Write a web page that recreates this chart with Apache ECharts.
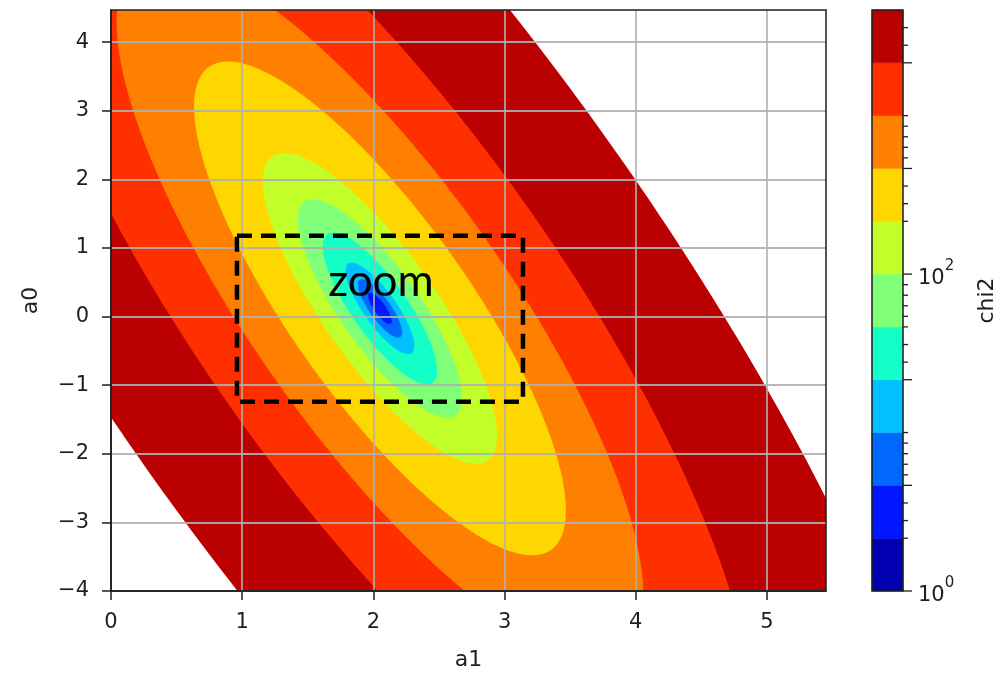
<!DOCTYPE html>
<html><head><meta charset="utf-8">
<script src="https://cdn.jsdelivr.net/npm/echarts@6/dist/echarts.min.js"></script>
<style>html,body{margin:0;padding:0;background:#fff}#c{width:1002px;height:673px}</style>
</head><body><div id="c"></div>
<script>
// ---- data ----
const levels = [1, 2, 5, 10, 20, 50, 100, 200, 500, 1000, 2000, 5000];
const bandColors = ['#0000b0', '#0016ff', '#0068ff', '#00c0ff', '#14ffc8', '#80ff78',
                    '#c2ff2a', '#ffd700', '#ff8000', '#ff3000', '#ba0000'];
const chi2Center = [2.05, 0.12];          // [a1, a0] of the minimum
const chi2Min = [3];                       // chi2 at the minimum
const chi2Curvature = [747, 240.5, 115.8]; // quadratic form: a1^2, a1*a0, a0^2 terms
const xTicks = [0, 1, 2, 3, 4, 5];
const yTicks = [-4, -3, -2, -1, 0, 1, 2, 3, 4];
const xRange = [0, 5.45];
const yRange = [-4, 4.47];
const cbMajorTicks = [1, 5, 20, 100, 500, 2000];
const cbMinorTicks = [2, 3, 4, 6, 7, 8, 9, 10, 30, 40, 50, 60, 70, 80, 90,
                      200, 300, 400, 600, 700, 800, 900, 1000, 3000, 4000];
const cbLabelled = [1, 100];
const zoomBox = [[0.96, 1.18], [3.14, -1.24]];
const zoomText = ['zoom'];

// ---- helpers ----
const FONT = 'DejaVu Sans';
const INK = '#1e1e1e';
function cbPos(v) {
  for (let i = 0; i < levels.length - 1; i++) {
    if (v <= levels[i + 1]) return i + (v - levels[i]) / (levels[i + 1] - levels[i]);
  }
  return levels.length - 1;
}
function minus(v) { return v < 0 ? '\u2212' + Math.abs(v) : String(v); }

const contourData = [];
for (let i = levels.length - 1; i >= 1; i--) contourData.push([chi2Center[0], chi2Center[1], i]);
const bandData = bandColors.map((c, i) => [0, i]);
const tickData = cbMajorTicks.map(v => [1, cbPos(v), 1]).concat(cbMinorTicks.map(v => [1, cbPos(v), 0]));

const chart = echarts.init(document.getElementById('c'), null, {renderer: 'canvas'});
const axisText = {fontSize: 21, color: INK, fontFamily: FONT};
const nameText = {fontSize: 22, color: INK, fontFamily: FONT};

chart.setOption({
  animation: false,
  backgroundColor: '#fff',
  grid: [
    {left: 111, top: 10, width: 715, height: 581, show: false, containLabel: false, outerBoundsMode: 'none'},
    {left: 872, top: 10, width: 31, height: 581, show: false, containLabel: false, outerBoundsMode: 'none'}
  ],
  xAxis: [
    {
      gridIndex: 0, type: 'value', min: xRange[0], max: xRange[1], interval: 1, z: 3,
      position: 'bottom',
      axisLine: {show: true, onZero: false, lineStyle: {color: INK, width: 1.5}},
      axisTick: {show: true, length: 9, lineStyle: {color: INK, width: 1.5}, customValues: xTicks},
      axisLabel: Object.assign({margin: 21, customValues: xTicks,
        formatter: v => xTicks.indexOf(v) >= 0 ? minus(v) : ''}, axisText),
      splitLine: {show: true, lineStyle: {color: 'rgba(176,176,176,0.9)', width: 1.8}},
      name: 'a1', nameLocation: 'middle', nameGap: 58, nameTextStyle: nameText
    },
    {gridIndex: 1, type: 'value', min: 0, max: 1, show: false}
  ],
  yAxis: [
    {
      gridIndex: 0, type: 'value', min: yRange[0], max: yRange[1], interval: 1, z: 3,
      position: 'left',
      axisLine: {show: true, onZero: false, lineStyle: {color: INK, width: 1.5}},
      axisTick: {show: true, length: 9, lineStyle: {color: INK, width: 1.5}, customValues: yTicks},
      axisLabel: Object.assign({margin: 22, customValues: yTicks,
        formatter: v => yTicks.indexOf(v) >= 0 ? minus(v) : ''}, axisText),
      splitLine: {show: true, lineStyle: {color: 'rgba(176,176,176,0.9)', width: 1.8}},
      name: 'a0', nameLocation: 'middle', nameGap: 69, nameRotate: 90, nameTextStyle: nameText
    },
    {
      gridIndex: 1, type: 'value', min: 0, max: levels.length - 1, interval: 1, position: 'right',
      axisLine: {show: false}, axisTick: {show: false}, splitLine: {show: false},
      axisLabel: {
        margin: 15, color: INK, fontFamily: FONT,
        formatter: v => {
          const L = levels[v];
          if (cbLabelled.indexOf(L) < 0) return '';
          return '{b|10}{s|' + Math.round(Math.log10(L)) + '}';
        },
        rich: {
          b: {fontSize: 21, fontFamily: FONT, color: INK, lineHeight: 30, verticalAlign: 'bottom'},
          s: {fontSize: 15, fontFamily: FONT, color: INK, lineHeight: 30, verticalAlign: 'top'}
        }
      },
      name: 'chi2', nameLocation: 'middle', nameGap: 73, nameRotate: 90, nameTextStyle: nameText
    }
  ],
  series: [
    {
      type: 'custom', name: 'chi2', xAxisIndex: 0, yAxisIndex: 0, z: 2,
      encode: {x: 0, y: 1}, data: contourData,
      renderItem: function (params, api) {
        const idx = api.value(2);
        const K = levels[idx] - chi2Min[0];
        if (!(K > 0)) return;
        const A = chi2Curvature[0], B = chi2Curvature[1], C = chi2Curvature[2];
        const g = C - B * B / A;
        const pts = [];
        const N = 480;
        for (let k = 0; k < N; k++) {
          const t = 2 * Math.PI * k / N;
          const d0 = Math.sqrt(K / g) * Math.sin(t);
          const d1 = Math.sqrt(K / A) * Math.cos(t) - (B / A) * d0;
          pts.push(api.coord([chi2Center[0] + d1, chi2Center[1] + d0]));
        }
        const cs = params.coordSys;
        return {
          type: 'polygon', z2: 20 - idx, shape: {points: pts},
          style: {fill: bandColors[idx - 1], stroke: null},
          clipPath: {type: 'rect', shape: {x: cs.x, y: cs.y, width: cs.width, height: cs.height}}
        };
      }
    },
    {
      type: 'custom', name: 'zoomBox', xAxisIndex: 0, yAxisIndex: 0, z: 6,
      encode: {x: [0, 2], y: [1, 3]},
      data: [[zoomBox[0][0], zoomBox[0][1], zoomBox[1][0], zoomBox[1][1]]],
      renderItem: function (params, api) {
        const p0 = api.coord([api.value(0), api.value(1)]);
        const p1 = api.coord([api.value(2), api.value(3)]);
        return {
          type: 'group', children: [
            {type: 'rect', shape: {x: p0[0], y: p0[1], width: p1[0] - p0[0], height: p1[1] - p0[1]},
             style: {fill: null, stroke: '#000', lineWidth: 4.5, lineDash: [15, 9]}},
            {type: 'text', x: (p0[0] + p1[0]) / 2 + 1, y: p0[1] + 46,
             style: {text: zoomText[0], fontSize: 44, fontFamily: 'Lato', fill: '#000',
                     align: 'center', verticalAlign: 'middle'}}
          ]
        };
      }
    },
    {
      type: 'custom', name: 'frame', xAxisIndex: 0, yAxisIndex: 0, z: 7,
      encode: {x: 0, y: 1}, data: [[chi2Center[0], chi2Center[1]]],
      renderItem: function (params) {
        const cs = params.coordSys;
        return {type: 'rect', shape: {x: cs.x, y: cs.y, width: cs.width, height: cs.height},
                style: {fill: null, stroke: INK, lineWidth: 1.5}};
      }
    },
    {
      type: 'custom', name: 'colorbar', xAxisIndex: 1, yAxisIndex: 1, z: 2,
      encode: {x: 0, y: 1}, data: bandData,
      renderItem: function (params, api) {
        const i = api.value(1);
        const p0 = api.coord([0, i]);
        const p1 = api.coord([1, i + 1]);
        return {type: 'rect', shape: {x: p0[0], y: p1[1], width: p1[0] - p0[0], height: p0[1] - p1[1]},
                style: {fill: bandColors[i], stroke: bandColors[i], lineWidth: 0.5}};
      }
    },
    {
      type: 'custom', name: 'cbTicks', xAxisIndex: 1, yAxisIndex: 1, z: 7,
      encode: {x: 0, y: 1}, data: tickData,
      renderItem: function (params, api) {
        const p = api.coord([1, api.value(1)]);
        const len = api.value(2) ? 9 : 5;
        return {type: 'line', shape: {x1: p[0], y1: p[1], x2: p[0] + len, y2: p[1]},
                style: {stroke: INK, lineWidth: 1.3}};
      }
    },
    {
      type: 'custom', name: 'cbFrame', xAxisIndex: 1, yAxisIndex: 1, z: 7,
      encode: {x: 0, y: 1}, data: [[0.5, 0.5]],
      renderItem: function (params) {
        const cs = params.coordSys;
        return {type: 'rect', shape: {x: cs.x, y: cs.y, width: cs.width, height: cs.height},
                style: {fill: null, stroke: INK, lineWidth: 1.5}};
      }
    }
  ]
});
</script></body></html>
